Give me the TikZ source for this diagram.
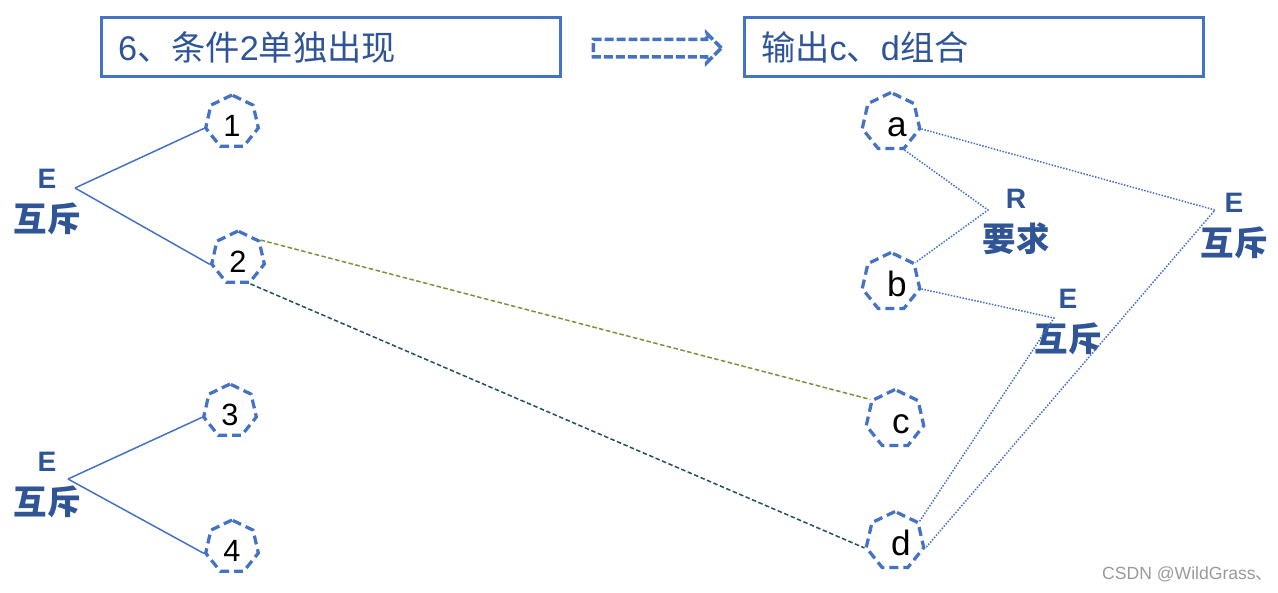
\documentclass[tikz,border=0pt]{standalone}
\usepackage{fontspec}
\setmainfont{Liberation Sans}
\newfontfamily\cjk{Noto Sans CJK SC}
\usepackage{xcolor}
\usepackage{tikz}
\usetikzlibrary{shapes,arrows}
\usetikzlibrary{positioning}
\definecolor{boxblue}{RGB}{68,114,196}
\definecolor{textblue}{RGB}{47,85,151}
\definecolor{linegreen}{RGB}{119,147,60}
\definecolor{lineteal}{RGB}{33,80,95}
\tikzstyle{title} = [rectangle, draw=boxblue, line width=0.06cm,
    minimum height=1.18cm, text width=8.52cm, inner xsep=0.33cm,
    align=left, text=textblue, font=\fontsize{19.5}{23}\selectfont]
\tikzstyle{cond} = [regular polygon, regular polygon sides=7,
    draw=boxblue, line width=0.065cm, dash pattern=on 0.18cm off 0.1cm,
    inner sep=0pt, minimum size=1.08cm, text height=16.8pt, text depth=0pt,
    font=\fontsize{17.5}{20}\selectfont]
\tikzstyle{goal} = [cond, minimum size=1.18cm, font=\fontsize{20}{23}\selectfont,
    execute at begin node=\hspace*{0.24cm}]
\tikzstyle{rel} = [align=center, text=textblue,
    font=\bfseries\fontsize{19}{24.7}\selectfont]
\tikzstyle{tie} = [draw=boxblue, line width=0.03cm]
\tikzstyle{link} = [draw=boxblue, line width=0.03cm, dash pattern=on 0.03cm off 0.03cm]
\tikzstyle{pick} = [line width=0.03cm, dash pattern=on 0.09cm off 0.05cm]

\begin{document}
\begin{tikzpicture}[x=0.02cm, y=-0.02cm]
  \useasboundingbox (0,0) rectangle (1278,592);

  % Place nodes
  \node [title] (cond6) at (331,47) {6{\cjk 、条件}2{\cjk 单独出现}};
  \node [title] (output) at (974,47) {{\cjk 输出}c{\cjk 、}d{\cjk 组合}};
  \node [single arrow, draw=boxblue, line width=0.07cm,
         dash pattern=on 0.18cm off 0.06cm, inner sep=0.14cm,
         single arrow head extend=0.12cm, minimum height=2.56cm]
        (lead) at (653,48) {};

  \node [cond] (n1) at (232,122) {1};
  \node [cond] (n2) at (238,258) {2};
  \node [cond] (n3) at (230,411) {3};
  \node [cond] (n4) at (232,547) {4};

  \node [goal] (a) at (891,122) {a};
  \node [goal] (b) at (891,282) {b};
  \node [goal] (c) at (895,419) {c};
  \node [goal] (d) at (895,541) {d};

  % Junctions and their labels
  \coordinate (ex12) at (75,188);
  \coordinate (ex34) at (68,479);
  \coordinate (rqab) at (988,210);
  \coordinate (exbd) at (1054,318);
  \coordinate (exad) at (1215,210);
  \node [rel] (ex12label) at (47,202) {{\fontsize{16}{24.7}\selectfont E}\\{\cjk 互斥}};
  \node [rel] (ex34label) at (47,485) {{\fontsize{16}{24.7}\selectfont E}\\{\cjk 互斥}};
  \node [rel] (rqlabel) at (1016,222) {{\fontsize{16}{24.7}\selectfont R}\\{\cjk 要求}};
  \node [rel] (exbdlabel) at (1068,322) {{\fontsize{16}{24.7}\selectfont E}\\{\cjk 互斥}};
  \node [rel] (exadlabel) at (1234,226) {{\fontsize{16}{24.7}\selectfont E}\\{\cjk 互斥}};

  \node [anchor=west, text=black!40, font=\fontsize{10}{12}\selectfont]
        (mark) at (1096,574) {CSDN @WildGrass{\cjk 、}};

  % Draw edges
  \path [tie] (ex12) -- (n1.corner 3);
  \path [tie] (ex12) -- (n2.corner 3);
  \path [tie] (ex34) -- (n3.corner 3);
  \path [tie] (ex34) -- (n4.corner 3);
  \path [pick, draw=linegreen] (n2.corner 7) -- (c.corner 2);
  \path [pick, draw=lineteal] (n2.corner 5) -- (d.corner 3);
  \path [link] (a.corner 5) -- (rqab) -- (b.corner 7);
  \path [link] (a.corner 6) -- (exad) -- (d.corner 6);
  \path [link] (b.corner 6) -- (exbd) -- (d.corner 7);
\end{tikzpicture}
\end{document}
